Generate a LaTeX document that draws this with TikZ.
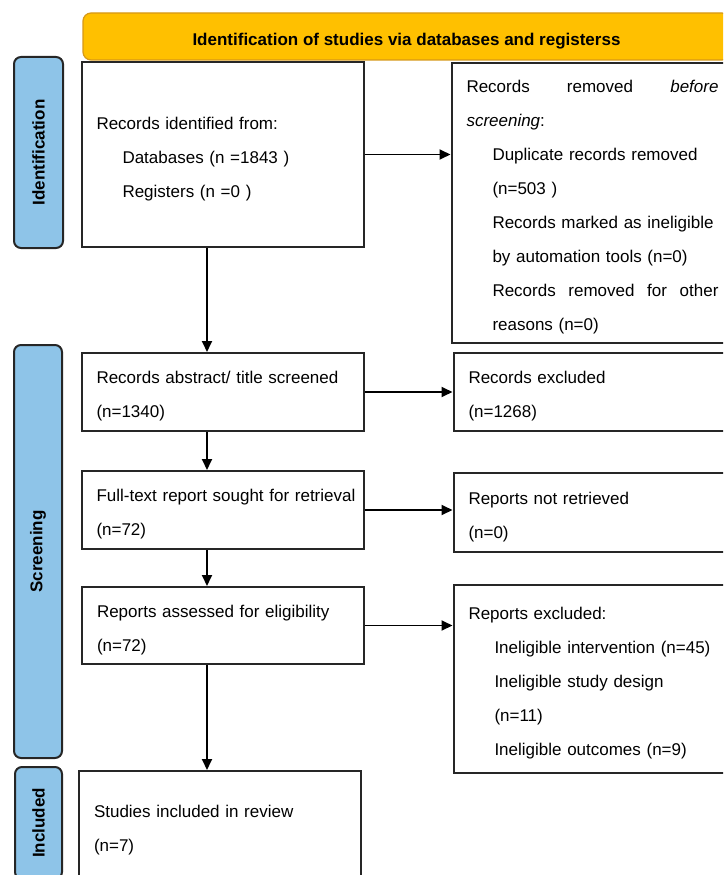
\documentclass[tikz,border=0pt]{standalone}
\usepackage{fontspec}
\setmainfont{Liberation Sans}
\usetikzlibrary{arrows.meta}
\usetikzlibrary{positioning}
\definecolor{bannerColor}{RGB}{255,192,0}
\definecolor{bannerEdge}{RGB}{214,152,24}
\definecolor{tabColor}{RGB}{142,196,232}
\newcommand\ind{\hspace*{26pt}}

\begin{document}
\begin{tikzpicture}[x=1pt,y=-1pt,
  every node/.style={font=\fontsize{17}{34}\selectfont},
  box/.style={draw=black!85, line width=2pt, text width=252pt, text height=21pt, inner xsep=15pt, inner ysep=0pt, align=left},
  tab/.style={draw=black!85, fill=tabColor, line width=2pt, rounded corners=7pt, rotate=90, font=\fontsize{17}{20}\selectfont\bfseries},
  arr/.style={-{Triangle[length=11pt,width=10pt]}, line width=1.8pt},
]
\clip (0,0) rectangle (723,875);

% phases
\node [draw=bannerEdge, fill=bannerColor, line width=1.2pt, rounded corners=8pt, minimum width=647pt, minimum height=47pt, font=\fontsize{17}{20}\selectfont\bfseries] (banner) at (406.5,36.5) {\raisebox{-5pt}[\height][\depth]{Identification of studies via databases and registerss}};
\node [tab, minimum width=191pt, minimum height=49pt] (idtab) at (38.5,152.5) {Identification};
\node [tab, minimum width=413pt, minimum height=48pt] (scrtab) at (38,551.5) {Screening};
\node [tab, minimum width=112pt, minimum height=47pt] (inctab) at (38.5,823) {Included};

% left column
\node [box, minimum height=185pt] (ident) at (222.5,154.5) {Records identified from:\\ \ind Databases (n =1843 )\\ \ind Registers (n =0 )};
\node [box, minimum height=78pt] (scr) at (222.5,392) {Records abstract/ title screened\\ (n=1340)};
\node [box, minimum height=78pt] (sought) at (222.5,510) {\mbox{Full-text report sought for retrieval}\\ (n=72)};
\node [box, minimum height=77pt] (assess) at (223,625.5) {Reports assessed for eligibility\\ (n=72)};
\node [box, minimum height=109pt] (incl) at (220,825.5) {Studies included in review\\ (n=7)};

% right column
\node [box, minimum height=280pt] (rem) at (592.5,203) {Records\hfill removed\hfill \textit{before}\\ \textit{screening}:\\ \ind Duplicate records removed\\ \ind (n=503 )\\ \ind Records marked as ineligible\\ \ind by automation tools (n=0)\\ \ind Records\hfill removed\hfill for\hfill other\\ \ind reasons (n=0)};
\node [box, minimum height=78pt] (excl) at (594.5,392) {Records excluded\\ (n=1268)};
\node [box, minimum height=79pt] (notret) at (594.5,512.5) {Reports not retrieved\\ (n=0)};
\node [box, minimum height=188pt] (rexcl) at (594.5,679) {Reports excluded:\\ \ind Ineligible intervention (n=45)\\ \ind Ineligible study design\\ \ind (n=11)\\ \ind Ineligible outcomes (n=9)};

% arrows
\coordinate (spine) at (207,0);
\draw [arr] (ident.south -| spine) -- (scr.north -| spine);
\draw [arr] (scr.south -| spine) -- (sought.north -| spine);
\draw [arr] (sought.south -| spine) -- (assess.north -| spine);
\draw [arr] (assess.south -| spine) -- (incl.north -| spine);
\draw [arr] (ident.east) -- (ident.east -| rem.west);
\draw [arr] (scr.east) -- (scr.east -| excl.west);
\draw [arr] (sought.east) -- (sought.east -| notret.west);
\draw [arr] (assess.east) -- (assess.east -| rexcl.west);
\end{tikzpicture}
\end{document}
